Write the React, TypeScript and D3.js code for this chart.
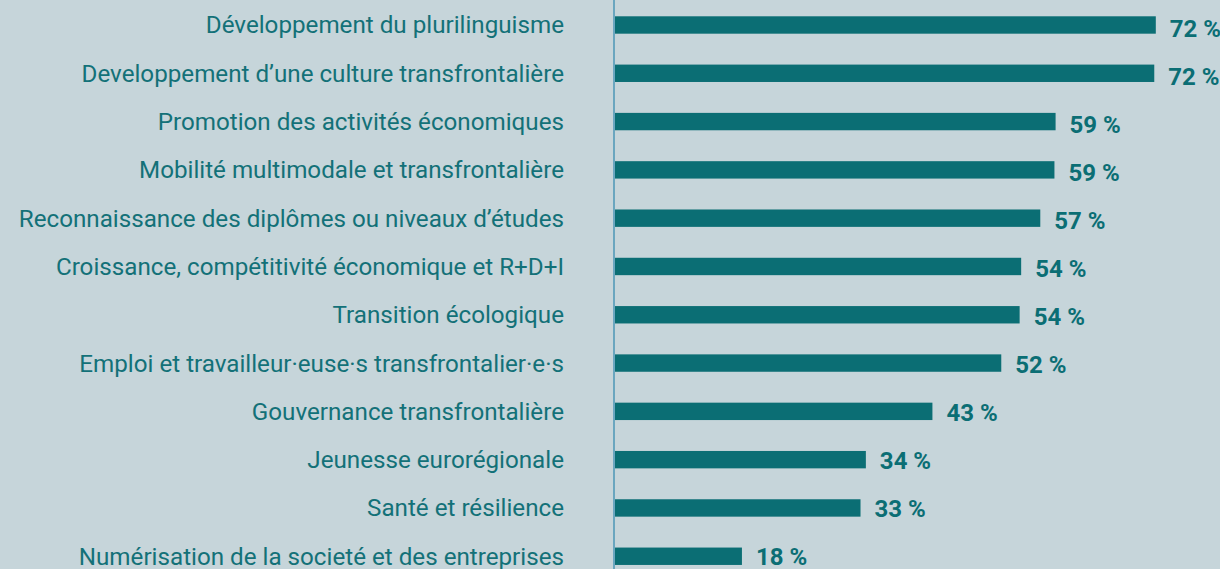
import React from "react";
import * as d3 from "d3";

const categories = [
  "Développement du plurilinguisme",
  "Developpement d’une culture transfrontalière",
  "Promotion des activités économiques",
  "Mobilité multimodale et transfrontalière",
  "Reconnaissance des diplômes ou niveaux d’études",
  "Croissance, compétitivité économique et R+D+I",
  "Transition écologique",
  "Emploi et travailleur·euse·s transfrontalier·e·s",
  "Gouvernance transfrontalière",
  "Jeunesse eurorégionale",
  "Santé et résilience",
  "Numérisation de la societé et des entreprises",
];

const values = [72.0, 71.8, 58.9, 58.75, 56.9, 54.4, 54.2, 51.8, 42.8, 34.1, 33.4, 17.9];

const W = 1220;
const H = 569;
const BG = "#c6d5da";
const BAR = "#0b6e74";
const TEXT = "#137178";
const AXIS = "#6aa6bf";

export default function App() {
  const axisX = 614;
  const x = d3.scaleLinear().domain([0, 100]).range([605, 605 + 765]);
  const y = d3
    .scaleBand<string>()
    .domain(categories)
    .range([0.84, 580.4])
    .paddingInner(0.64)
    .paddingOuter(0.32);
  const yVal = d3.scalePoint<string>().domain(categories).range([29, 556.5]);

  return (
    <div style={{ position: "absolute", left: 0, top: 0, width: W, height: H }}>
      <svg width={W} height={H} style={{ display: "block", background: BG }}>
        <rect x={0} y={0} width={W} height={H} fill={BG} />
        {categories.map((c, i) => {
          const by = y(c)!;
          const bh = y.bandwidth();
          const xe = x(values[i]);
          return (
            <g key={c}>
              <rect x={axisX} y={by} width={xe - axisX} height={bh} fill={BAR} />
              <text
                x={564}
                y={by + bh / 2}
                dy="0.35em"
                textAnchor="end"
                fontFamily="Roboto"
                fontSize={24.2}
                fill={TEXT}
              >
                {c}
              </text>
              <text
                x={xe + 14}
                y={yVal(c)!}
                dy="0.35em"
                fontFamily="Roboto"
                fontWeight={700}
                fontSize={24}
                fill={BAR}
              >
                {`${Math.round(values[i])} %`}
              </text>
            </g>
          );
        })}
        <line x1={axisX} x2={axisX} y1={0} y2={H} stroke={AXIS} strokeWidth={2} />
      </svg>
    </div>
  );
}
